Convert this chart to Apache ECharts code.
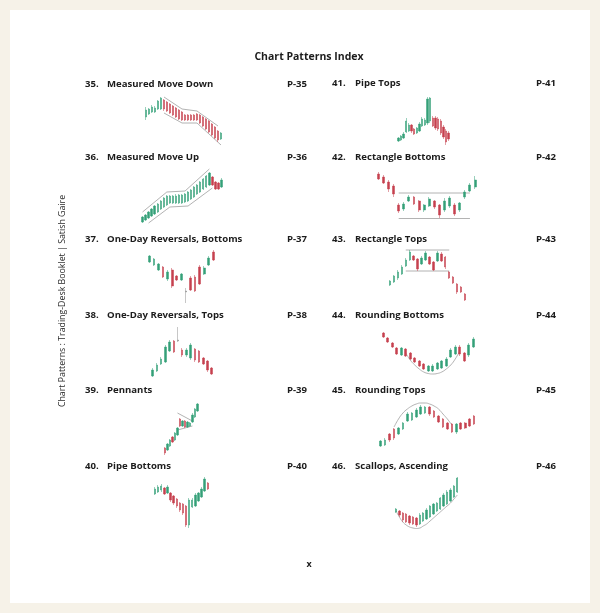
<!DOCTYPE html>
<html><head><meta charset="utf-8">
<script src="https://cdn.jsdelivr.net/npm/echarts@6/dist/echarts.min.js"></script>
<style>html,body{margin:0;padding:0;background:#f6f2e8}#c{width:600px;height:613px}</style>
</head><body><div id="c"></div><script>
// ---- text data ----
const pageTitle = 'Chart Patterns Index';
const sideText = 'Chart Patterns : Trading-Desk Booklet | Satish Gaire';
const leftNums = ['35.', '36.', '37.', '38.', '39.', '40.'];
const leftTitles = ['Measured Move Down', 'Measured Move Up', 'One-Day Reversals, Bottoms', 'One-Day Reversals, Tops', 'Pennants', 'Pipe Bottoms'];
const leftPages = ['P-35', 'P-36', 'P-37', 'P-38', 'P-39', 'P-40'];
const rightNums = ['41.', '42.', '43.', '44.', '45.', '46.'];
const rightTitles = ['Pipe Tops', 'Rectangle Bottoms', 'Rectangle Tops', 'Rounding Bottoms', 'Rounding Tops', 'Scallops, Ascending'];
const rightPages = ['P-41', 'P-42', 'P-43', 'P-44', 'P-45', 'P-46'];
const pageMark = 'x';

// ---- candle data [open, close, low, high] ----
const measuredMoveDown = [[28,35,25,38],[31,36,30,37],[33,38,32,40],[33,37,32,39],[36,44,35,45],[36,47,35,48],[45,36,34,46],[43,34,33,44],[41,32,31,42],[39,30,29,40],[37,28,27,38],[35,26,25,36],[33,25,24,34],[30,25,24,31],[30,25,24,31],[30,25,24,31],[30,25,24,31],[31,25,24,32],[30,22,21,31],[28,19,18,29],[26,16,15,27],[24,13,12,25],[21,10,9,22],[18,7,6,19],[14,5,3,15],[6,12,5,13]];
const mmDownUpper = [[6,48],[12,36],[17,34],[24,19]];
const mmDownLower = [[6,32],[12,22],[17,22],[25,0]];

const measuredMoveUp = [[3,8,2,9],[5,10,4,11],[7,13,6,14],[9,16,8,17],[11,19,10,20],[13,21,12,22],[16,24,15,25],[18,27,17,28],[20,29,19,30],[22,29,21,30],[22,29,21,30],[22,29,21,31],[22,30,21,31],[22,30,21,31],[23,31,22,32],[24,33,23,34],[26,35,25,36],[28,38,27,39],[31,40,30,41],[33,43,32,44],[36,46,35,47],[38,49,37,50],[40,52,39,53],[48,40,39,49],[43,36,35,44],[42,36,35,43],[38,45,37,47]];
const mmUpUpper = [[0,13],[8,33],[14,34],[22,56]];
const mmUpLower = [[2,2],[9,18],[15,19],[23,37]];

const odrBottoms = [[43,49,42,50],[40,46,39,47],[35,41,34,42],[38,28,27,39],[26,33,24,35],[35,19,17,37],[29,25,24,30],[25,31,24,32],[14,13,2,17],[27,15,14,29],[28,14,13,30],[38,21,20,40],[31,37,30,39],[40,47,39,49],[53,45,44,55]];
const odrBottomsReversalDay = 8;

const odrTops = [[4,10,3,12],[9,15,8,17],[16,21,15,23],[18,33,17,35],[29,38,28,40],[39,28,27,40],[39,40,38,53],[30,25,23,32],[25,30,23,32],[22,35,20,37],[31,20,18,32],[29,18,17,30],[22,16,15,23],[19,10,8,20],[12,6,5,13]];
const odrTopsReversalDay = 6;

const pennants = [[7,2,0,8],[5,11,4,12],[9,15,8,16],[18,13,12,19],[15,22,14,23],[20,27,19,28],[36,29,28,37],[29,34,28,35],[34,28,27,35],[28,33,27,34],[29,32,28,33],[33,40,32,42],[38,46,37,47],[44,51,43,52]];
const pennantUpper = [[5,42],[11,34]];
const pennantLower = [[5,25],[11,29]];

const pipeBottoms = [[36,41,35,43],[38,43,37,45],[40,44,38,46],[42,36,35,43],[37,43,36,45],[37,30,28,38],[34,27,25,35],[31,24,22,32],[27,20,18,28],[26,17,15,27],[24,5,3,25],[5,30,2,32],[23,30,22,32],[24,35,23,37],[29,37,28,38],[33,41,32,43],[39,51,38,53],[47,41,40,48]];

const pipeTops = [[4,7,3,8],[5,9,4,10],[7,11,6,13],[13,24,12,27],[14,20,13,22],[20,14,12,21],[16,11,10,17],[12,17,11,18],[14,21,13,23],[19,26,18,28],[20,25,19,27],[22,46,20,48],[24,47,22,48],[27,19,18,29],[27,17,15,29],[26,16,14,28],[24,12,10,26],[18,8,6,20],[14,3,0,16],[12,6,4,14]];

const rectBottoms = [[46,41,40,48],[43,37,36,45],[38,31,28,40],[34,26,23,36],[15,9,7,17],[11,16,9,18],[19,23,18,25],[23,16,15,24],[19,10,8,20],[10,15,8,16],[14,21,13,23],[19,13,11,20],[15,5,2,16],[10,19,8,22],[14,22,12,24],[15,6,4,17],[10,17,8,18],[23,28,21,30],[29,35,28,37],[33,40,31,44]];
const rectBottomsTop = [[4,27],[18,27]];
const rectBottomsBase = [[4,1.5],[18,1.5]];

const rectTops = [[20,24,19,25],[23,29,22,30],[27,33,25,35],[31,38,30,40],[39,45,38,47],[45,53,44,55],[49,45,44,50],[46,36,34,47],[41,47,40,49],[45,52,44,54],[48,41,40,49],[43,35,34,44],[44,52,43,54],[51,44,43,53],[48,38,36,49],[33,27,26,34],[28,22,21,29],[21,13,11,22],[18,13,12,19],[11,5,4,12]];
const rectTopsTop = [[4,55],[15,55]];
const rectTopsBase = [[4,34],[15,34]];

const roundBottoms = [[42,38,37,43],[37,33,32,38],[32,28,27,33],[27,21,20,28],[20,27,19,28],[26,19,18,27],[22,16,15,23],[17,13,12,18],[14,9,8,15],[11,6,5,12],[4,9,3,10],[4,9,3,11],[6,12,5,13],[7,14,6,15],[9,16,8,18],[18,25,17,27],[21,28,20,30],[28,21,19,30],[22,14,13,23],[20,30,18,32],[28,36,27,38]];
const roundBottomsArc = [[5,22],[6,15],[7,10],[8,6],[9,3],[10,1.5],[11,1],[12,1.5],[13,3],[14,6],[15,10],[16,16],[17,24]];

const roundTops = [[4,9,3,10],[5,10,4,12],[16,10,8,17],[21,12,10,22],[16,22,15,23],[21,27,20,28],[29,36,28,38],[30,37,29,38],[33,40,32,42],[36,43,35,45],[37,43,36,44],[43,36,34,44],[39,33,32,40],[34,28,27,35],[31,23,22,32],[27,21,20,28],[26,18,17,27],[18,26,16,27],[27,21,20,28],[27,22,21,28],[31,24,23,32],[34,26,25,35]];
const roundTopsArc = [[3,23],[4,31],[5,37],[6,41],[7,44],[8,46],[9,47],[10,47],[11,46],[12,44],[13,41],[14,36],[15,31],[16,25]];

const scallops = [[18,21,17,22],[19,15,13,20],[17,10,8,18],[16,8,7,17],[14,7,5,15],[13,6,5,14],[12,5,3,13],[6,15,5,17],[9,17,8,18],[11,20,10,22],[13,24,12,25],[16,26,15,27],[19,27,18,28],[21,32,20,33],[24,35,23,37],[26,38,25,40],[29,40,28,42],[33,44,32,45],[38,52,37,53]];
const scallopsArc = [[0,19],[1,13],[2,8],[3,5],[4,3],[5,2],[6,1.5],[7,2],[8,4],[9,6],[10,9],[11,12],[12,15],[13,18],[14,21],[15,24],[16,27],[17,31],[18,35]];

// ---- layout (positions / styles) ----
const GREEN = '#34a078', RED = '#c6404f', GREY = '#8e8e8e', LINE = '#a0a0a0';
const charts = [
  {data: measuredMoveDown, lines: [mmDownUpper, mmDownLower], left: 144.5, top: 85, width: 78},
  {data: pipeTops, lines: [], left: 397, top: 85, width: 53},
  {data: measuredMoveUp, lines: [mmUpUpper, mmUpLower], left: 141, top: 165, width: 82},
  {data: rectBottoms, lines: [rectBottomsTop, rectBottomsBase], left: 375.8, top: 160, width: 101.8},
  {data: odrBottoms, lines: [], grey: odrBottomsReversalDay, left: 147, top: 245, width: 68.6},
  {data: rectTops, lines: [rectTopsTop, rectTopsBase], left: 388, top: 245, width: 79},
  {data: odrTops, lines: [], grey: odrTopsReversalDay, left: 150.6, top: 320, width: 63.2},
  {data: roundBottoms, lines: [roundBottomsArc], smooth: true, left: 381, top: 315, width: 94.5},
  {data: pennants, lines: [pennantUpper, pennantLower], left: 163.8, top: 395, width: 34.8},
  {data: roundTops, lines: [roundTopsArc], smooth: true, left: 378.5, top: 390, width: 97.8},
  {data: pipeBottoms, lines: [], left: 153.5, top: 470, width: 55.8},
  {data: scallops, lines: [scallopsArc], smooth: true, left: 394.3, top: 470, width: 64.7}
];

const grid = [], xAxis = [], yAxis = [], series = [];
charts.forEach((c, i) => {
  grid.push({left: c.left, top: c.top, width: c.width, height: 60});
  xAxis.push({type: 'category', gridIndex: i, data: c.data.map((d, k) => k), show: false, boundaryGap: true});
  yAxis.push({type: 'value', gridIndex: i, min: 0, max: 60, show: false});
  const step = c.width / c.data.length;
  series.push({
    type: 'candlestick', xAxisIndex: i, yAxisIndex: i,
    barWidth: Math.max(1.9, step * 0.48),
    itemStyle: {color: GREEN, color0: RED, borderColor: GREEN, borderColor0: RED, borderWidth: 0.5},
    data: c.data.map((d, k) => k === c.grey ? {value: d, itemStyle: {color: GREY, color0: GREY, borderColor: GREY, borderColor0: GREY}} : d)
  });
  c.lines.forEach(l => series.push({
    type: 'line', xAxisIndex: i, yAxisIndex: i, data: l, symbol: 'none', smooth: !!c.smooth,
    lineStyle: {color: LINE, width: 0.8}, silent: true, z: 1
  }));
});

const FONT = '"Open Sans", "DejaVu Sans", sans-serif';
const graphic = [
  {type: 'rect', shape: {x: 10, y: 10, width: 580, height: 593}, style: {fill: '#ffffff'}, z: -10, silent: true},
  {type: 'text', x: 309, y: 57, style: {text: pageTitle, font: 'bold 10.5px ' + FONT, fill: '#1c1c1c', textAlign: 'center', textVerticalAlign: 'middle'}},
  {type: 'text', x: 62, y: 301, rotation: Math.PI / 2, style: {text: sideText, font: '8.8px ' + FONT, fill: '#2a2a2a', textAlign: 'center', textVerticalAlign: 'middle'}},
  {type: 'text', x: 309, y: 564, style: {text: pageMark, font: 'bold 9px ' + FONT, fill: '#1c1c1c', textAlign: 'center', textVerticalAlign: 'middle'}}
];
const rowsLeft = [84, 157.5, 239.5, 315, 390.5, 466];
const rowsRight = [83.5, 157.5, 239, 315, 390, 466.5];
const itemFont = 'bold 9.6px ' + FONT;
for (let r = 0; r < 6; r++) {
  graphic.push({type: 'text', x: 85, y: rowsLeft[r], style: {text: leftNums[r], font: itemFont, fill: '#1c1c1c', textVerticalAlign: 'middle'}});
  graphic.push({type: 'text', x: 107, y: rowsLeft[r], style: {text: leftTitles[r], font: itemFont, fill: '#1c1c1c', textVerticalAlign: 'middle'}});
  graphic.push({type: 'text', x: 287, y: rowsLeft[r], style: {text: leftPages[r], font: itemFont, fill: '#1c1c1c', textVerticalAlign: 'middle'}});
  graphic.push({type: 'text', x: 332, y: rowsRight[r], style: {text: rightNums[r], font: itemFont, fill: '#1c1c1c', textVerticalAlign: 'middle'}});
  graphic.push({type: 'text', x: 355, y: rowsRight[r], style: {text: rightTitles[r], font: itemFont, fill: '#1c1c1c', textVerticalAlign: 'middle'}});
  graphic.push({type: 'text', x: 536, y: rowsRight[r], style: {text: rightPages[r], font: itemFont, fill: '#1c1c1c', textVerticalAlign: 'middle'}});
}

const chart = echarts.init(document.getElementById('c'), null, {renderer: 'canvas'});
chart.setOption({
  animation: false,
  backgroundColor: '#f6f2e8',
  graphic: graphic,
  grid: grid, xAxis: xAxis, yAxis: yAxis, series: series
});
</script></body></html>
